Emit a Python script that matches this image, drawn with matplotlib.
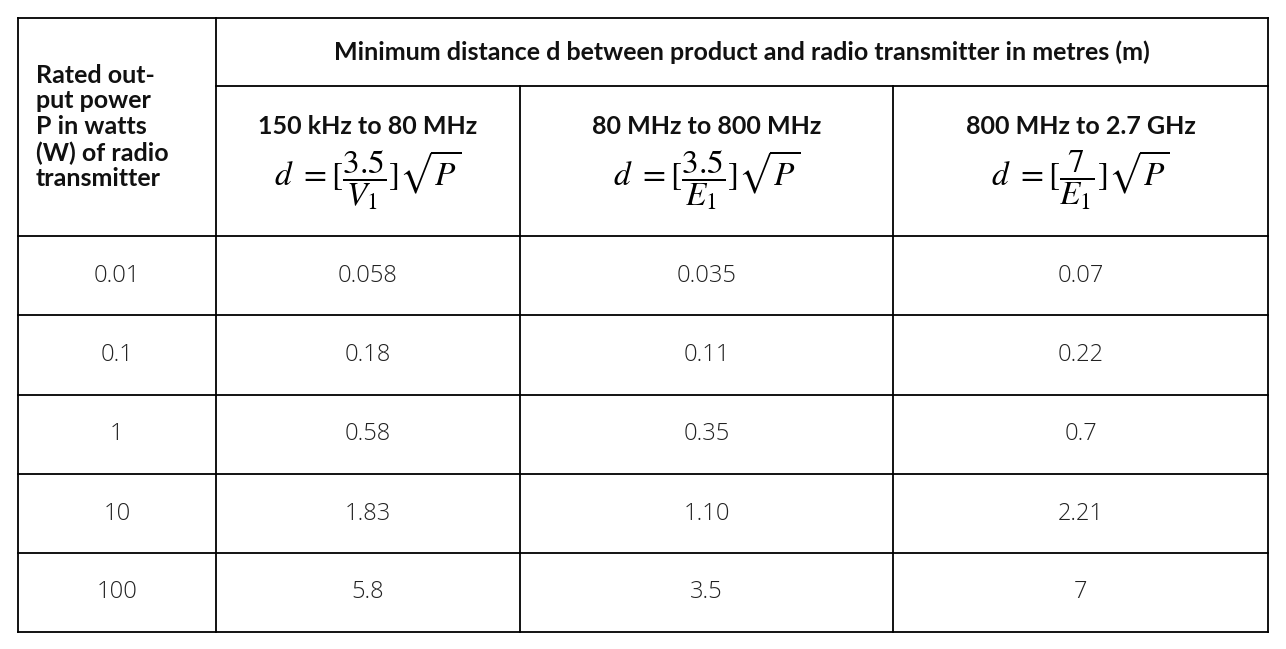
import matplotlib
matplotlib.use("Agg")
import matplotlib.pyplot as plt

plt.rcParams['mathtext.fontset'] = 'stix'

row_header = ["Rated out-\nput power\nP in watts\n(W) of radio\ntransmitter"]
main_header = "Minimum distance d between product and radio transmitter in metres (m)"
bands = ["150 kHz to 80 MHz", "80 MHz to 800 MHz", "800 MHz to 2.7 GHz"]
formulas = [r"$d\ =[\dfrac{3.5}{V_1}]\sqrt{P}$", r"$d\ =[\dfrac{3.5}{E_1}]\sqrt{P}$", r"$d\ =[\dfrac{7}{E_1}]\sqrt{P}$"]
powers = ["0.01", "0.1", "1", "10", "100"]
band1 = ["0.058", "0.18", "0.58", "1.83", "5.8"]
band2 = ["0.035", "0.11", "0.35", "1.10", "3.5"]
band3 = ["0.07", "0.22", "0.7", "2.21", "7"]

fig = plt.figure(figsize=(12.86, 6.49), dpi=100)
ax = fig.add_axes([0, 0, 1, 1])
ax.set_xlim(0, 1286); ax.set_ylim(649, 0); ax.axis('off')

xs = [18, 216, 520, 893, 1268]
ys = [18, 86, 236, 315, 395, 474, 553, 632]
lw = 1.3
for x in xs:
    if x in (520, 893):
        ax.plot([x, x], [ys[1], ys[-1]], color='black', lw=lw)
    else:
        ax.plot([x, x], [ys[0], ys[-1]], color='black', lw=lw)
for y in ys:
    if y == 86:
        ax.plot([xs[1], xs[-1]], [y, y], color='black', lw=lw)
    else:
        ax.plot([xs[0], xs[-1]], [y, y], color='black', lw=lw)

bold = dict(family='Lato', weight='bold', fontsize=18, color='#111111')
body = dict(family='Open Sans', weight='light', fontsize=17, color='#222222')

ax.text(36, (ys[0]+ys[2])/2, row_header[0], ha='left', va='center', linespacing=1.15, **bold)
ax.text((xs[1]+xs[-1])/2, (ys[0]+ys[1])/2, main_header, ha='center', va='center', **bold)
for i in range(3):
    cx = (xs[i+1]+xs[i+2])/2
    ax.text(cx, 127, bands[i], ha='center', va='center', **bold)
    ax.text(cx, 180, formulas[i], ha='center', va='center', fontsize=24)

cols = [powers, band1, band2, band3]
for r in range(len(powers)):
    cy = (ys[2+r]+ys[3+r])/2
    for c, data in enumerate(cols):
        ax.text((xs[c]+xs[c+1])/2, cy, data[r], ha='center', va='center', **body)

fig.savefig("out.png", dpi=100)
